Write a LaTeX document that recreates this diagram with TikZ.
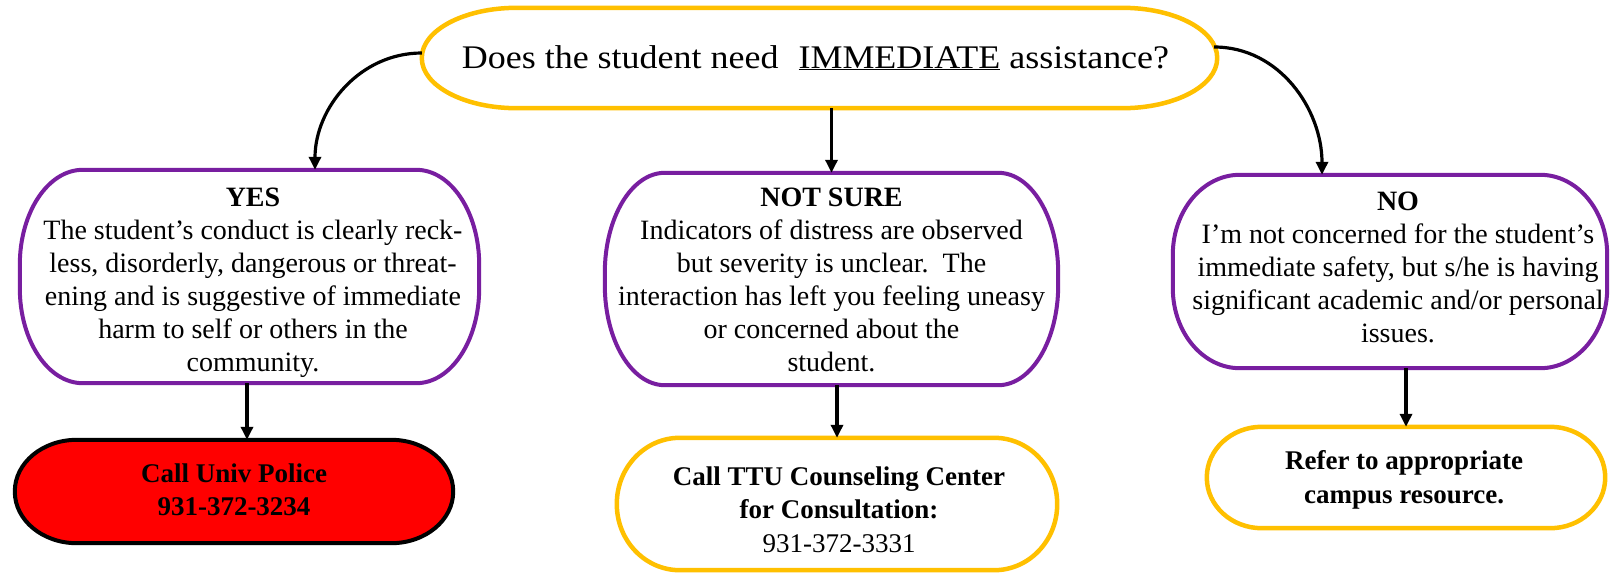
\documentclass[tikz,border=0pt]{standalone}
\usepackage{fontspec}
\setmainfont{Liberation Serif}
\newfontfamily\topfont[FakeStretch=1.09]{Liberation Serif}
\usetikzlibrary{arrows.meta}
\definecolor{gold}{RGB}{255,192,0}
\definecolor{purp}{RGB}{120,30,160}
\definecolor{alarm}{RGB}{255,0,0}

% #1 node name, #2 x radius, #3 y radius, #4 path options
\newcommand\pillshape[4]{%
  \path[#4] ([xshift=#2]#1.north west) -- ([xshift=-#2]#1.north east)
    arc[start angle=90, end angle=0, x radius=#2, y radius=#3]
    -- ([yshift=#3]#1.south east)
    arc[start angle=0, end angle=-90, x radius=#2, y radius=#3]
    -- ([xshift=#2]#1.south west)
    arc[start angle=270, end angle=180, x radius=#2, y radius=#3]
    -- ([yshift=-#3]#1.north west)
    arc[start angle=180, end angle=90, x radius=#2, y radius=#3]
    -- cycle;}

\begin{document}
\begin{tikzpicture}[x=1pt,y=1pt,
  box/.style={rectangle, draw=none, inner sep=0pt},
  purpline/.style={draw=purp, line width=4pt, fill=white},
  goldline/.style={draw=gold, line width=4.5pt, fill=white},
  redline/.style={draw=black, line width=4pt, fill=alarm},
  bodytxt/.style={inner sep=0pt, anchor=north, align=center, font=\fontsize{28}{33}\selectfont},
  calltxt/.style={inner sep=0pt, anchor=north, align=center, font=\fontsize{27}{33.5}\selectfont},
  arr/.style={line width=3.2pt, -{Triangle[length=13pt,width=12pt]}}]

\fill[white] (0,0) rectangle (1611,-573);
\useasboundingbox (0,0) rectangle (1611,-573);

% shape holders
\node[box, minimum width=795pt, minimum height=100pt] (top) at (819.5,-58) {};
\node[box, minimum width=459pt, minimum height=213pt] (yes) at (249.5,-276.5) {};
\node[box, minimum width=453pt, minimum height=212pt] (ns) at (831.5,-279) {};
\node[box, minimum width=434pt, minimum height=193pt] (no) at (1390,-271.5) {};
\node[box, minimum width=438pt, minimum height=103pt] (police) at (234,-491.5) {};
\node[box, minimum width=440pt, minimum height=132pt] (ttu) at (837,-504) {};
\node[box, minimum width=398pt, minimum height=101pt] (refer) at (1406,-477.5) {};

% outlines
\pillshape{top}{95pt}{50pt}{goldline}
\pillshape{yes}{63pt}{95pt}{purpline}
\pillshape{ns}{60pt}{100pt}{purpline}
\pillshape{no}{67pt}{80pt}{purpline}
\pillshape{police}{62pt}{51.5pt}{redline}
\pillshape{ttu}{63pt}{66pt}{goldline}
\pillshape{refer}{55pt}{50.5pt}{goldline}

% texts
\node[inner sep=0pt, anchor=base, font=\topfont\fontsize{33}{40}\selectfont] (top-t) at (815.5,-68)
  {Does the student need\hspace{20pt}\underline{IMMEDIATE} assistance?};
\node[bodytxt] (yes-t) at (253,-188) {\textbf{YES}\\The student’s conduct is clearly reck-\\less, disorderly, dangerous or threat-\\ening and is suggestive of immediate\\harm to self or others in the\\community.};
\node[bodytxt] (ns-t) at (831.5,-188) {\textbf{NOT SURE}\\Indicators of distress are observed\\but severity is unclear.\ \ The\\interaction has left you feeling uneasy\\or concerned about the\\student.};
\node[bodytxt] (no-t) at (1398,-192) {\textbf{NO}\\I’m not concerned for the student’s\\immediate safety, but s/he is having\\significant academic and/or personal\\issues.};
\node[calltxt, font=\fontsize{27}{33.5}\selectfont\bfseries] (police-t) at (234,-463.5) {Call Univ Police\\931-372-3234};
\node[calltxt] (ttu-t) at (839,-466.5) {\textbf{Call TTU Counseling Center}\\\textbf{for Consultation:}\\931-372-3331};
\node[calltxt, font=\fontsize{27}{34}\selectfont\bfseries] (refer-t) at (1404,-450) {Refer to appropriate\\campus resource.};

% connectors
\draw[arr] ([yshift=5pt]top.west) to[out=180,in=90] ([xshift=65.5pt]yes.north);
\draw[arr] (top.south -| ns.north) -- (ns.north);
\draw[arr] ([yshift=11pt,xshift=-3pt]top.east) to[out=0,in=90] ([xshift=-68pt]no.north);
\draw[arr] (police.north |- yes.south) ++(13pt,0) coordinate (ys) (ys) -- (ys |- police.north);
\draw[arr] (ttu.north |- ns.south) -- (ttu.north);
\draw[arr] (refer.north |- no.south) -- (refer.north);
\end{tikzpicture}
\end{document}
